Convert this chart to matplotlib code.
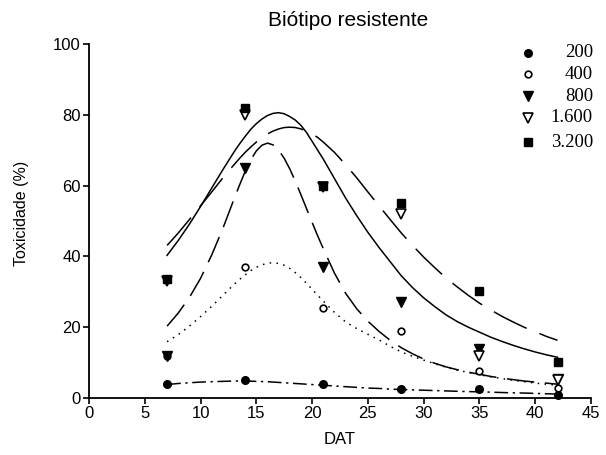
import matplotlib
matplotlib.use("Agg")
import matplotlib.pyplot as plt

# observed toxicity (%) per dose, at each evaluation day (DAT)
days = [7, 14, 21, 28, 35, 42]
obs_200 = [4, 5, 4, 2.5, 2.5, 0.8]
obs_400 = [12, 37, 25.5, 19, 7.5, 2.8]
obs_800 = [12, 65, 37, 27, 13.8, 5.5]
obs_1600 = [33, 80, 59.5, 52, 12, 5.2]
obs_3200 = [33.5, 82, 60, 55, 30.3, 10.3]

# fitted curves
fit_x = [7, 8, 9, 10, 11, 12, 13, 13.5, 14, 14.5, 15, 15.5, 16, 16.5, 17, 17.5,
         18, 18.5, 19, 19.5, 20, 20.5, 21, 22, 23, 24, 25, 26, 27, 28, 29, 30,
         31, 32, 33, 34, 35, 36, 37, 38, 39, 40, 41, 42]
fit_200 = [3.8, 4.1, 4.3, 4.5, 4.6, 4.7, 4.8, 4.8, 4.8, 4.75, 4.7, 4.65, 4.6, 4.5,
           4.4, 4.3, 4.2, 4.1, 4.0, 3.9, 3.8, 3.7, 3.6, 3.4, 3.2, 3.0, 2.8, 2.7,
           2.5, 2.4, 2.3, 2.2, 2.1, 2.0, 1.9, 1.8, 1.75, 1.65, 1.55, 1.45, 1.4,
           1.3, 1.2, 1.1]
fit_400 = [15.9, 17.9, 20.3, 23.0, 25.9, 29.0, 32.1, 33.5, 34.8, 36.0, 36.9, 37.6,
           38.1, 38.2, 38.0, 37.5, 36.6, 35.4, 34.0, 32.4, 30.7, 29.0, 27.4, 24.2,
           21.5, 19.6, 18.0, 16.4, 14.6, 13.0, 11.8, 10.7, 9.7, 8.7, 7.9, 7.2,
           6.6, 6.0, 5.5, 5.0, 4.6, 4.2, 3.9, 3.6]
fit_800 = [20.3, 24.0, 28.4, 33.8, 40.4, 47.9, 56.2, 60.2, 64.0, 67.3, 69.8, 71.4,
           72.0, 71.5, 70.0, 67.7, 64.7, 61.2, 57.4, 53.5, 49.6, 45.8, 42.2, 35.3,
           29.6, 25.2, 21.7, 18.8, 16.3, 14.2, 12.5, 11.0, 9.8, 8.8, 8.0, 7.3,
           6.7, 6.1, 5.6, 5.2, 4.8, 4.5, 4.2, 3.9]
fit_1600 = [40.3, 44.5, 49.1, 54.1, 59.3, 64.5, 69.5, 71.8, 73.9, 75.9, 77.5, 78.8,
            79.8, 80.4, 80.6, 80.3, 79.5, 78.5, 77.0, 75.0, 72.5, 70.0, 67.5, 62.0,
            56.5, 51.5, 46.8, 42.5, 38.5, 34.5, 31.2, 28.3, 25.8, 23.5, 21.6, 20.0,
            18.6, 17.2, 16.0, 14.9, 13.9, 13.0, 12.2, 11.5]
fit_3200 = [43.1, 46.6, 50.4, 54.3, 58.2, 62.2, 65.9, 67.7, 69.4, 70.9, 72.3, 73.6,
            74.6, 75.4, 76.0, 76.4, 76.5, 76.4, 76.0, 75.4, 74.6, 73.6, 72.3, 69.4,
            65.9, 62.2, 58.2, 54.3, 50.4, 46.6, 43.1, 39.8, 36.8, 33.9, 31.4, 29.0,
            26.8, 24.9, 23.1, 21.5, 20.0, 18.7, 17.4, 16.3]

labels = ['200', '400', '800', '1.600', '3.200']

plt.rcParams['font.family'] = ['Liberation Sans', 'DejaVu Sans']

fig = plt.figure(figsize=(6.06, 4.55), dpi=100)
ax = fig.add_axes([89 / 606, 1 - 398 / 455, 502 / 606, 354 / 455])

# curves
lw = 1.1
ax.plot(fit_x, fit_200, color='k', lw=lw, dashes=(9, 3, 1.5, 3))
ax.plot(fit_x, fit_400, color='k', lw=lw, dashes=(1, 3.5))
ax.plot(fit_x, fit_800, color='k', lw=lw, dashes=(18, 7))
ax.plot(fit_x, fit_1600, color='k', lw=lw)
ax.plot(fit_x, fit_3200, color='k', lw=lw, dashes=(24, 9))

# markers
styles = [
    dict(marker='o', ms=5.5, mfc='k', mec='k'),
    dict(marker='o', ms=4.8, mfc='white', mec='k', mew=1.2),
    dict(marker='v', ms=7, mfc='k', mec='k'),
    dict(marker='v', ms=6.5, mfc='white', mec='k', mew=1.2),
    dict(marker='s', ms=5.8, mfc='k', mec='k'),
]
series = [obs_200, obs_400, obs_800, obs_1600, obs_3200]
for vals, st in zip(series, styles):
    ax.plot(days, vals, ls='none', clip_on=False, zorder=3, **st)

# legend drawn by hand: marker left, label right-aligned
leg_y = [0.975, 0.915, 0.852, 0.791, 0.722]
for yy, lab, st in zip(leg_y, labels, styles):
    ax.plot([0.8745], [yy], transform=ax.transAxes, clip_on=False, ls='none', **st)
    ax.text(1.004, yy, lab, transform=ax.transAxes, ha='right', va='center',
            fontsize=13.5, family=['Liberation Serif', 'DejaVu Serif'])

ax.set_xlim(0, 45)
ax.set_ylim(0, 100)
ax.set_xticks(range(0, 46, 5))
ax.set_yticks(range(0, 101, 20))
for s in ['top', 'right']:
    ax.spines[s].set_visible(False)
for s in ['left', 'bottom']:
    ax.spines[s].set_linewidth(1.3)
ax.tick_params(direction='out', length=4, width=1.2, labelsize=12, pad=2)

fig.text(348 / 606, 1 - 21 / 455, 'Biótipo resistente', ha='center', va='center', fontsize=15)
fig.text(21.5 / 606, 1 - 213 / 455, 'Toxicidade (%)', rotation=90, ha='center', va='center', fontsize=11.5)
fig.text(340 / 606, 1 - 440 / 455, 'DAT', ha='center', va='center', fontsize=12)

fig.savefig('out.png', dpi=100)
